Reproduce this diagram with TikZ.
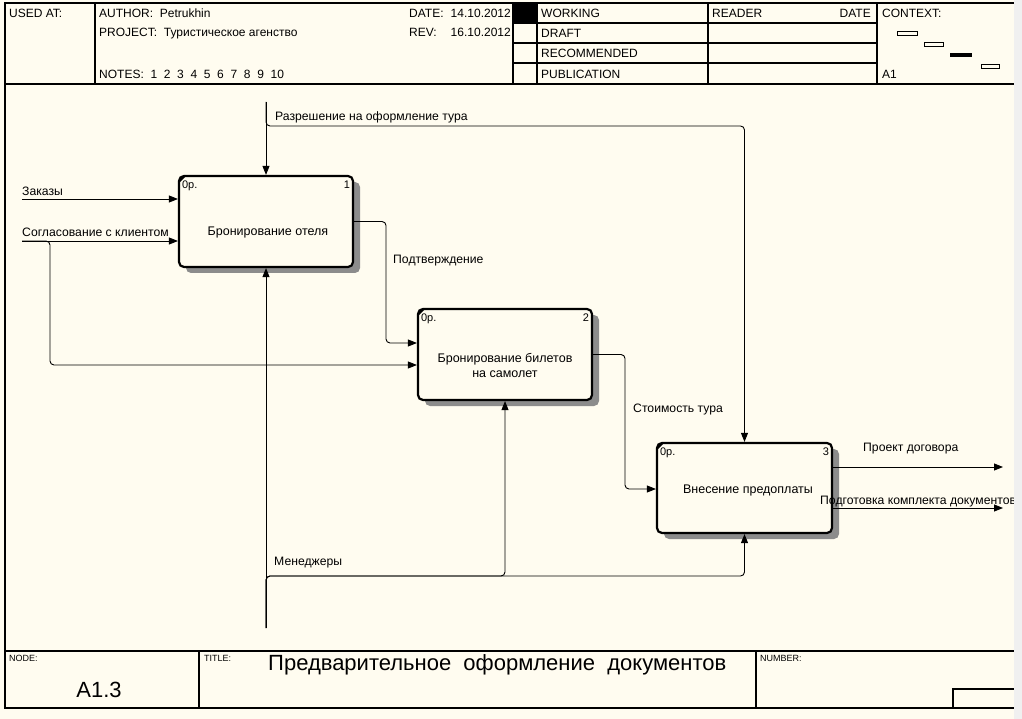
\documentclass[tikz,border=0pt]{standalone}
\usepackage{fontspec}
\setmainfont{Liberation Sans}
\usetikzlibrary{patterns,arrows.meta}
\definecolor{paper}{RGB}{255,252,240}

\begin{document}
\begin{tikzpicture}[x=1pt,y=-1pt]
%----------estilos---------
\tikzset{
blok/.style={
rectangle,
rounded corners=5pt,
draw,
line width=2.2pt,
fill=paper,
minimum width=174pt,
minimum height=91pt,
inner sep=0pt,
preaction={draw=none,fill=black!45,
    transform canvas={shift={(7pt,-6pt)}}}},
strelka/.style={line width=0.9pt,-{Triangle[length=9pt,width=7pt]},rounded corners=4pt},
ramka/.style={line width=1.1pt},
shapka/.style={anchor=base west,inner sep=0pt,font=\fontsize{12}{13}\selectfont},
metka/.style={anchor=base west,inner sep=0pt,font=\fontsize{12.2}{14}\selectfont},
tekst/.style={align=center,inner sep=0pt,font=\fontsize{12.5}{15}\selectfont},
nomer/.style={anchor=base west,inner sep=0pt,font=\fontsize{11}{12}\selectfont},
melko/.style={anchor=base west,inner sep=0pt,font=\fontsize{9}{11}\selectfont}}

\useasboundingbox (0,0) rectangle (1022,719);
\fill[paper] (0,0) rectangle (1022,719);

%----------marco---------
\draw [ramka](1014,3)--(5,3)--(5,708)--(1014,708);
\draw [ramka](5,84)--(1014,84);
\draw [ramka](5,651)--(1014,651);
\foreach \x in {95,513,537,708,877}
    \draw [ramka](\x,3)--(\x,84);
\foreach \y in {23,43,63}
    \draw [ramka](513,\y)--(877,\y);
\fill (513,3) rectangle (537,23);
\draw [ramka](199,651)--(199,708);
\draw [ramka](756,651)--(756,708);
\draw [ramka](953,708)--(953,689)--(1014,689);

%----------cabecera---------
\draw (9,18) node[shapka] {USED AT:};
\draw (99,18) node[shapka] {AUTHOR:\ \ Petrukhin};
\draw (99,37) node[shapka] {PROJECT:\ \ Туристическое агенство};
\draw (99,79) node[shapka] {NOTES:\ \ 1\ \ 2\ \ 3\ \ 4\ \ 5\ \ 6\ \ 7\ \ 8\ \ 9\ \ 10};
\draw (409,18) node[shapka] {DATE:};
\draw (511,18) node[shapka,anchor=base east] {14.10.2012};
\draw (409,37) node[shapka] {REV:};
\draw (511,37) node[shapka,anchor=base east] {16.10.2012};
\draw (541,18) node[shapka] {WORKING};
\draw (541,38) node[shapka] {DRAFT};
\draw (541,58) node[shapka] {RECOMMENDED};
\draw (541,79) node[shapka] {PUBLICATION};
\draw (712,18) node[shapka] {READER};
\draw (871,18) node[shapka,anchor=base east] {DATE};
\draw (882,18) node[shapka] {CONTEXT:};
\draw (882,79) node[shapka] {A1};

% contexto
\draw [line width=0.8pt](897,31) rectangle (917,35);
\draw [line width=0.8pt](924,42) rectangle (943,46);
\fill (950,53) rectangle (972,57);
\draw [line width=0.8pt](981,64) rectangle (999,68);

%----------pie---------
\draw (9,661) node[melko] {NODE:};
\draw (99,697) node[anchor=base,inner sep=0pt,font=\fontsize{22}{24}\selectfont] {A1.3};
\draw (204,661) node[melko] {TITLE:};
\draw (268,670) node[anchor=base west,inner sep=0pt,font=\fontsize{22}{24}\selectfont] {Предварительное\ \ оформление\ \ документов};
\draw (760,661) node[melko] {NUMBER:};

%----------bloques---------
\node [blok] (hotel) at (266,221.5) {};
\node [blok] (avia) at (505,354.5) {};
\node [blok,minimum width=175pt,minimum height=90pt] (oplata) at (744.5,488) {};

\node [tekst] at (268,232) {Бронирование отеля};
\node [tekst] at (505,365) {Бронирование билетов\\на самолет};
\node [tekst] at (748,490) {Внесение предоплаты};

\foreach \b/\n in {hotel/1,avia/2,oplata/3}{
    \draw [line width=2pt]([shift={(1,7)}]\b.north west)--([shift={(7,1)}]\b.north west);
    \node [nomer] at ([shift={(4,14)}]\b.north west) {0р.};
    \node [nomer,anchor=base east] at ([shift={(-4,14)}]\b.north east) {\n};
}

%----------flechas---------
% entradas
\coordinate (zakazy) at (22,199);
\coordinate (soglas) at (22,241);
\draw [strelka](zakazy)--(zakazy -| hotel.west);
\draw [strelka](soglas)--(soglas -| hotel.west);
\draw [strelka](soglas)-|(50,365)--(avia.west |- 0,365);
\draw (22,196) node[metka] {Заказы};
\draw (22,237) node[metka] {Согласование с клиентом};

% salidas entre bloques
\draw [strelka](hotel.east)-|(386,343)--(avia.west |- 0,343);
\draw (393,263) node[metka] {Подтверждение};
\draw [strelka](avia.east)-|(625,489)--(oplata.west |- 0,489);
\draw (633,412) node[metka] {Стоимость тура};

% control
\coordinate (razresh) at (266,102);
\draw [strelka](razresh)--(hotel.north);
\draw [strelka](razresh)|-(oplata.north |- 0,126)--(oplata.north);
\draw (275,121) node[metka] {Разрешение на оформление тура};

% mecanismo
\coordinate (menedzh) at (266,628);
\draw [strelka](menedzh)--(hotel.south);
\draw [strelka](menedzh)|-(avia.south |- 0,576)--(avia.south);
\draw [strelka](menedzh)|-(oplata.south |- 0,576)--(oplata.south);
\draw (274,565) node[metka] {Менеджеры};

% salidas
\coordinate (dogovor) at (1003,467);
\coordinate (komplekt) at (1003,508);
\draw [strelka](oplata.east |- dogovor)--(dogovor);
\draw [strelka](oplata.east |- komplekt)--(komplekt);
\draw (863,451) node[metka] {Проект договора};
\draw (820,504) node[metka] {Подготовка комплекта документов};

% borde derecho
\fill [black!6](1014,0) rectangle (1022,719);
\end{tikzpicture}
\end{document}
